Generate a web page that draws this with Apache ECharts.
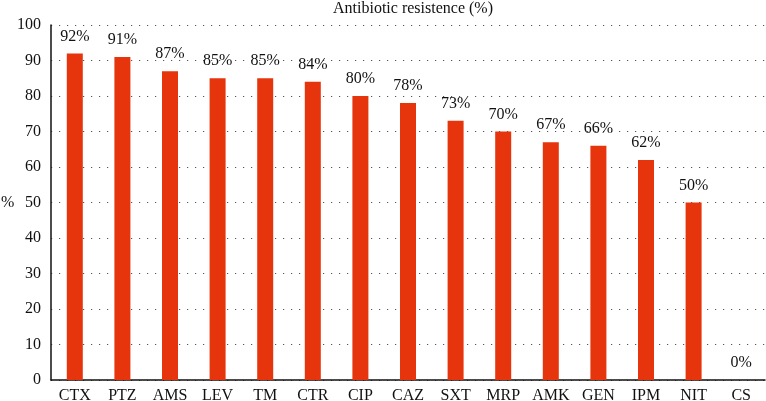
<!DOCTYPE html>
<html><head><meta charset="utf-8">
<script src="https://cdn.jsdelivr.net/npm/echarts@6/dist/echarts.min.js"></script>
<style>html,body{margin:0;padding:0;background:#fff}#c{width:766px;height:401px}</style>
</head><body><div id="c"></div>
<script>
const categories = ['CTX','PTZ','AMS','LEV','TM','CTR','CIP','CAZ','SXT','MRP','AMK','GEN','IPM','NIT','CS'];
const values = [92,91,87,85,85,84,80,78,73,70,67,66,62,50,0];
const yTicks = [0,10,20,30,40,50,60,70,80,90,100];
const titleText = 'Antibiotic resistence (%)';
const yName = '%';
const font = 'Liberation Serif';
const chart = echarts.init(document.getElementById('c'));
chart.setOption({
  animation:false,
  title:{text:titleText,left:408,top:-4,textAlign:'center',textStyle:{fontFamily:font,fontSize:16,fontWeight:'normal',color:'#111'}},
  graphic:[{type:'text',left:1,top:195,style:{text:yName,fontFamily:font,fontSize:16,fill:'#111'}}],
  grid:{left:51,right:1,top:25,bottom:21,containLabel:false,outerBoundsMode:'none'},
  xAxis:{type:'category',data:categories,axisTick:{show:false},
    axisLine:{lineStyle:{color:'#111',width:1.5}},
    axisLabel:{interval:0,fontFamily:font,fontSize:16,color:'#111',margin:8}},
  yAxis:{type:'value',min:yTicks[0],max:yTicks[yTicks.length-1],interval:10,
    axisLine:{show:true,lineStyle:{color:'#111',width:1.5}},axisTick:{show:false},
    axisLabel:{fontFamily:font,fontSize:16,color:'#111',margin:10},
    splitLine:{show:true,lineStyle:{color:'#555',width:1,type:[1.2,6.8]}}},
  series:[{type:'bar',data:values,barWidth:16,
    itemStyle:{color:'#e6340c'},
    label:{show:true,position:'top',distance:9,formatter:'{c}%',fontFamily:font,fontSize:16,color:'#111'}}]
});
</script></body></html>
